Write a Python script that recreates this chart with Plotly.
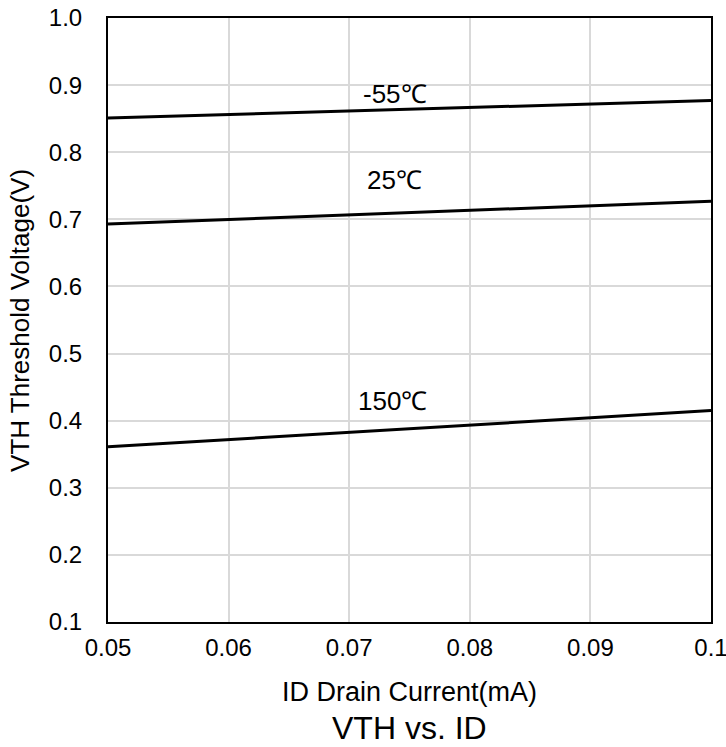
import plotly.graph_objects as go

# Data
id_ma = [0.05, 0.10]
vth_m55 = [0.851, 0.877]
vth_25 = [0.693, 0.727]
vth_150 = [0.361, 0.415]

series_labels = ["-55℃", "25℃", "150℃"]
label_x = [0.0738, 0.07375, 0.0736]
label_y = [0.887, 0.758, 0.430]

x_ticks = [0.05, 0.06, 0.07, 0.08, 0.09, 0.1]
x_tick_text = ["0.05", "0.06", "0.07", "0.08", "0.09", "0.1"]
y_ticks = [0.1, 0.2, 0.3, 0.4, 0.5, 0.6, 0.7, 0.8, 0.9, 1.0]
y_tick_text = ["0.1", "0.2", "0.3", "0.4", "0.5", "0.6", "0.7", "0.8", "0.9", "1.0"]

FONT = "Liberation Sans, Arial, sans-serif"

fig = go.Figure()
for ys, name in zip([vth_m55, vth_25, vth_150], series_labels):
    fig.add_trace(go.Scatter(x=id_ma, y=ys, mode="lines", name=name,
                             line=dict(color="black", width=3),
                             showlegend=False, cliponaxis=False))

for t, lx, ly in zip(series_labels, label_x, label_y):
    fig.add_annotation(x=lx, y=ly, text=t, showarrow=False,
                       xanchor="center", yanchor="middle",
                       font=dict(family=FONT, size=26, color="black"))

fig.add_annotation(xref="paper", yref="paper", x=0.5, y=-0.1159,
                   xanchor="center", yanchor="middle",
                   text="ID Drain Current(mA)", showarrow=False,
                   font=dict(family=FONT, size=27, color="black"))
fig.add_annotation(xref="paper", yref="paper", x=0.5, y=-0.1755,
                   xanchor="center", yanchor="middle",
                   text="VTH vs. ID", showarrow=False,
                   font=dict(family=FONT, size=32, color="black"))
fig.add_annotation(xref="paper", yref="paper", x=-0.146, y=0.5,
                   xanchor="center", yanchor="middle",
                   text="VTH Threshold Voltage(V)", showarrow=False, textangle=-90,
                   font=dict(family=FONT, size=26, color="black"))

fig.update_layout(
    width=726, height=747,
    margin=dict(l=108, r=15, t=18, b=125),
    paper_bgcolor="white", plot_bgcolor="white",
    font=dict(family=FONT, size=24, color="black"),
)
fig.update_xaxes(range=[0.05, 0.1000001], tickvals=x_ticks, ticktext=x_tick_text,
                 showgrid=True, gridcolor="#d9d9d9", gridwidth=1.5,
                 showline=True, linecolor="black", linewidth=2, mirror=True,
                 zeroline=False, ticks="", ticklabelstandoff=3, automargin=False,
                 ticklabeloverflow="allow",
                 tickfont=dict(family=FONT, size=24, color="black"))
fig.update_yaxes(range=[0.1, 1.0], tickvals=y_ticks, ticktext=y_tick_text,
                 showgrid=True, gridcolor="#d9d9d9", gridwidth=1.5,
                 showline=True, linecolor="black", linewidth=2, mirror=True,
                 zeroline=False, ticks="", ticklabelstandoff=19, automargin=False,
                 ticklabeloverflow="allow",
                 tickfont=dict(family=FONT, size=24, color="black"))

fig.write_html("out.html", config={"displayModeBar": False},
               post_script="document.body.style.margin='0px';")
